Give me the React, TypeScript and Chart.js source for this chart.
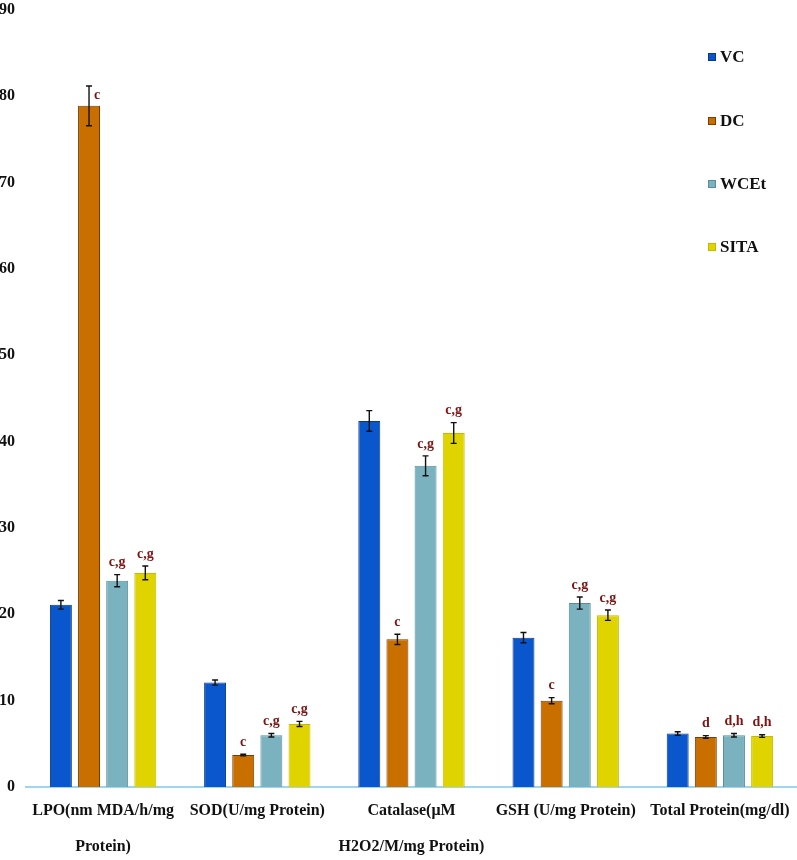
import React, { useEffect, useRef } from "react";
import { Chart, registerables } from "chart.js";

Chart.register(...registerables);

const categories: string[][] = [
  ["LPO(nm MDA/h/mg", "Protein)"],
  ["SOD(U/mg Protein)"],
  ["Catalase(μM", "H2O2/M/mg Protein)"],
  ["GSH (U/mg Protein)"],
  ["Total Protein(mg/dl)"],
];
const seriesNames = ["VC", "DC", "WCEt", "SITA"];
const vcValues = [21.1, 12.1, 42.4, 17.3, 6.2];
const dcValues = [78.9, 3.7, 17.1, 10.0, 5.8];
const wcetValues = [23.9, 6.0, 37.2, 21.3, 6.0];
const sitaValues = [24.8, 7.3, 41.0, 19.9, 5.9];
const vcErrors = [0.5, 0.3, 1.2, 0.6, 0.2];
const dcErrors = [2.3, 0.1, 0.6, 0.35, 0.15];
const wcetErrors = [0.7, 0.2, 1.15, 0.7, 0.2];
const sitaErrors = [0.8, 0.3, 1.2, 0.6, 0.15];
const vcMarks = ["", "", "", "", ""];
const dcMarks = ["c", "c", "c", "c", "d"];
const wcetMarks = ["c,g", "c,g", "c,g", "c,g", "d,h"];
const sitaMarks = ["c,g", "c,g", "c,g", "c,g", "d,h"];
const yMin = 0;
const yMax = 90;
const yStep = 10;

const fills = ["#0a56cc", "#c96f00", "#7ab3bf", "#e0d400"];
const borders = ["#0a3886", "#7a3c00", "#578f9b", "#c6b900"];
const allValues = [vcValues, dcValues, wcetValues, sitaValues];
const allErrors = [vcErrors, dcErrors, wcetErrors, sitaErrors];
const allMarks = [vcMarks, dcMarks, wcetMarks, sitaMarks];

const SERIF = "'Liberation Serif', 'Times New Roman', serif";

const overlayPlugin = {
  id: "overlay",
  afterDatasetsDraw(chart: any) {
    const ctx = chart.ctx;
    const yScale = chart.scales.y;
    const area = chart.chartArea;
    ctx.save();
    chart.data.datasets.forEach((ds: any, di: number) => {
      const meta = chart.getDatasetMeta(di);
      const errs = allErrors[di];
      const marks = allMarks[di];
      meta.data.forEach((bar: any, i: number) => {
        const v = ds.data[i];
        const e = errs[i];
        const x = bar.x;
        const yTop = yScale.getPixelForValue(v + e);
        const yBot = yScale.getPixelForValue(v - e);
        ctx.strokeStyle = "#111";
        ctx.lineWidth = 1.4;
        ctx.beginPath();
        ctx.moveTo(x, yTop);
        ctx.lineTo(x, yBot);
        ctx.moveTo(x - 3, yTop);
        ctx.lineTo(x + 3, yTop);
        ctx.moveTo(x - 3, yBot);
        ctx.lineTo(x + 3, yBot);
        ctx.stroke();
        const m = marks[i];
        if (m) {
          ctx.fillStyle = "#7d1414";
          ctx.font = `bold 14px ${SERIF}`;
          if (yTop - area.top < 80) {
            ctx.textAlign = "left";
            ctx.textBaseline = "top";
            ctx.fillText(m, x + 5, yTop + 2);
          } else {
            ctx.textAlign = "center";
            ctx.textBaseline = "bottom";
            ctx.fillText(m, x, yTop - 5);
          }
        }
      });
    });
    // legend
    const legendX = 708;
    const legendYs = [57, 121, 184, 247];
    chart.data.datasets.forEach((ds: any, di: number) => {
      const cy = legendYs[di];
      ctx.fillStyle = ds.backgroundColor;
      ctx.fillRect(legendX, cy - 4, 8, 8);
      ctx.strokeStyle = ds.borderColor;
      ctx.lineWidth = 1;
      ctx.strokeRect(legendX + 0.5, cy - 3.5, 7, 7);
      ctx.fillStyle = "#111";
      ctx.font = `bold 17px ${SERIF}`;
      ctx.textAlign = "left";
      ctx.textBaseline = "middle";
      ctx.fillText(ds.label, legendX + 12, cy + 1);
    });
    ctx.restore();
  },
};

export default function App() {
  const ref = useRef<HTMLCanvasElement | null>(null);
  useEffect(() => {
    document.body.style.margin = "0";
    const canvas = ref.current;
    if (!canvas) return;
    const chart = new Chart(canvas, {
      type: "bar",
      data: {
        labels: categories,
        datasets: seriesNames.map((name, i) => ({
          label: name,
          data: allValues[i],
          backgroundColor: fills[i],
          borderColor: borders[i],
          borderWidth: 1,
          barPercentage: 0.78,
          categoryPercentage: 0.73,
        })),
      },
      options: {
        responsive: false,
        animation: false,
        devicePixelRatio: 1,
        layout: { padding: { top: 10, left: 0, right: 0, bottom: 0 } },
        plugins: {
          legend: { display: false },
          tooltip: { enabled: false },
        },
        scales: {
          x: {
            grid: { display: false, drawTicks: false },
            border: { display: true, color: "#9fd6ee", width: 2 },
            ticks: {
              color: "#111",
              padding: 5,
              maxRotation: 0,
              autoSkip: false,
              font: { family: SERIF, size: 16, weight: "bold", lineHeight: 2.3 },
            },
            afterFit: (s: any) => {
              s.height = 73;
              s.paddingLeft = 0;
              s.paddingRight = 0;
            },
          },
          y: {
            min: yMin,
            max: yMax,
            grid: { display: false, drawTicks: false },
            border: { display: false },
            ticks: {
              stepSize: yStep,
              color: "#111",
              padding: 11,
              font: { family: SERIF, size: 16, weight: "bold" },
            },
            afterFit: (s: any) => {
              s.width = 26;
              s.paddingTop = 0;
              s.paddingBottom = 0;
            },
          },
        },
      },
      plugins: [overlayPlugin],
    });
    return () => chart.destroy();
  }, []);
  return (
    <div style={{ width: 797, height: 860, background: "#fff" }}>
      <canvas ref={ref} width={797} height={860} style={{ display: "block" }} />
    </div>
  );
}
